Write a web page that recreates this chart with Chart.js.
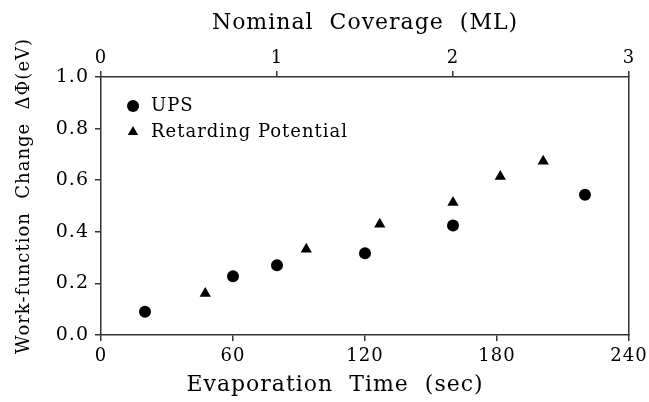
<!DOCTYPE html>
<html>
<head>
<meta charset="utf-8">
<script src="https://cdn.jsdelivr.net/npm/chart.js@4.4.1/dist/chart.umd.min.js"></script>
<style>
  html, body { margin: 0; padding: 0; background: #fff; }
  #wrap { width: 649px; height: 402px; }
</style>
</head>
<body>
<div id="wrap"><canvas id="chart"></canvas></div>
<script>
  // values
  const upsTime = [20, 60, 80, 120, 160, 220];
  const upsChange = [0.09, 0.228, 0.27, 0.317, 0.424, 0.544];
  const rpTime = [47.4, 93.3, 126.7, 160, 181.5, 201];
  const rpChange = [0.161, 0.332, 0.429, 0.514, 0.614, 0.673];

  const timeTicks = [0, 60, 120, 180, 240];
  const coverageTicks = [0, 1, 2, 3];
  const changeTicks = [0.0, 0.2, 0.4, 0.6, 0.8, 1.0];

  const seriesNames = ["UPS", "Retarding Potential"];
  const xTitle = "Evaporation  Time  (sec)";
  const x2Title = "Nominal  Coverage  (ML)";
  // leading blanks nudge the rotated title up a bit, as in the original
  const yTitle = "   Work-function  Change  \u0394\u03a6(eV)";

  const FONT = "'DejaVu Serif', 'Liberation Serif', serif";
  const INK = "#000";
  const AXIS = "#333";

  const toPoints = (xs, ys) => xs.map((x, i) => ({ x: x, y: ys[i] }));
  const useTicks = list => scale => { scale.ticks = list.map(v => ({ value: v })); };

  // wider letter spacing like the typeset original
  const spacing = {
    id: "spacing",
    beforeLayout(chart) { chart.ctx.letterSpacing = "1px"; },
    beforeDraw(chart) { chart.ctx.letterSpacing = "1px"; }
  };

  // put the legend a little inside the top-left corner of the plot
  const legendSpot = {
    id: "legendSpot",
    afterLayout(chart) {
      const lg = chart.legend, ca = chart.chartArea;
      lg.left = ca.left + 15;
      lg.top = ca.top + 12;
      lg.right = lg.left + lg.width;
      lg.bottom = lg.top + lg.height;
    }
  };

  // fixed box sizes; end labels may hang over the margins
  const fixHeight = h => s => { s.height = h; s.paddingLeft = 0; s.paddingRight = 0; };
  const fixWidth = w => s => { s.width = w; };

  const axisGrid = { display: true, drawOnChartArea: false, drawTicks: true, tickLength: 6, color: AXIS, lineWidth: 1.5 };
  const axisBorder = { display: true, color: AXIS, width: 1.5 };
  const xTickFont = { family: FONT, size: 18 };
  const yTickFont = { family: FONT, size: 19 };

  new Chart(document.getElementById("chart"), {
    type: "scatter",
    data: {
      datasets: [
        {
          label: seriesNames[0],
          data: toPoints(upsTime, upsChange),
          pointStyle: "circle",
          pointRadius: 6,
          backgroundColor: INK,
          borderColor: INK,
          borderWidth: 0
        },
        {
          label: seriesNames[1],
          data: toPoints(rpTime, rpChange),
          pointStyle: "triangle",
          pointRadius: 6.5,
          backgroundColor: INK,
          borderColor: INK,
          borderWidth: 0
        }
      ]
    },
    options: {
      responsive: true,
      maintainAspectRatio: false,
      animation: false,
      events: [],
      layout: { padding: { left: 21, right: 0, top: 0, bottom: 0 } },
      plugins: {
        tooltip: { enabled: false },
        legend: {
          position: "chartArea",
          align: "start",
          labels: {
            usePointStyle: true,
            boxWidth: 18,
            boxHeight: 8.5,
            padding: 8,
            color: INK,
            font: { family: FONT, size: 18 }
          }
        },
        title: {
          display: true,
          position: "bottom",
          text: xTitle,
          color: INK,
          font: { family: FONT, size: 22, weight: "normal" },
          padding: { top: 0, bottom: 4 }
        }
      },
      scales: {
        x: {
          type: "linear",
          position: "bottom",
          min: 0,
          max: 240,
          afterBuildTicks: useTicks(timeTicks),
          afterFit: fixHeight(36.6),
          ticks: { color: INK, font: xTickFont, padding: 5, maxRotation: 0 },
          grid: axisGrid,
          border: axisBorder
        },
        x2: {
          type: "linear",
          axis: "x",
          position: "top",
          min: 0,
          max: 3,
          afterBuildTicks: useTicks(coverageTicks),
          afterFit: fixHeight(77),
          ticks: { color: INK, font: xTickFont, padding: 2, maxRotation: 0 },
          grid: axisGrid,
          border: axisBorder,
          title: {
            display: true,
            text: x2Title,
            color: INK,
            font: { family: FONT, size: 22 },
            padding: { top: 10 }
          }
        },
        y: {
          type: "linear",
          position: "left",
          min: 0,
          max: 1,
          afterBuildTicks: useTicks(changeTicks),
          afterFit: fixWidth(80),
          ticks: { color: INK, font: yTickFont, padding: 6, callback: v => v.toFixed(1) },
          grid: axisGrid,
          border: axisBorder,
          title: {
            display: true,
            text: yTitle,
            color: INK,
            font: { family: FONT, size: 18 },
            padding: { top: -7 }
          }
        },
        y2: {
          type: "linear",
          axis: "y",
          position: "right",
          min: 0,
          max: 1,
          afterFit: fixWidth(20),
          ticks: { display: false },
          grid: { display: false },
          border: axisBorder
        }
      }
    },
    plugins: [spacing, legendSpot]
  });
</script>
</body>
</html>
